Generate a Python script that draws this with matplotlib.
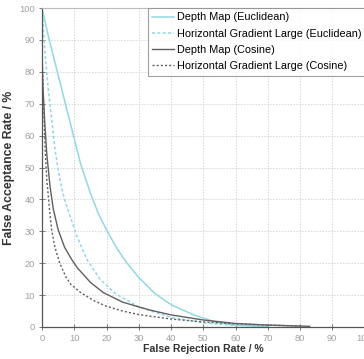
import matplotlib.pyplot as plt
import numpy as np

plt.rcParams['font.family'] = ['Liberation Sans', 'DejaVu Sans']

# FRR / FAR values
depth_euc_x = [0, 2, 5, 8, 10, 12, 15, 17.5, 20, 23, 26, 30, 35, 40, 47, 54, 60, 70]
depth_euc_y = [100, 91, 79, 67, 59, 51, 42, 35.5, 30.5, 25, 20.5, 15.5, 10.5, 7, 3.8, 1.5, 0.6, 0.1]

hgl_euc_x = [0, 1, 2, 3, 4, 5, 6, 7, 8.8, 11, 14, 18, 22.7, 30, 40, 50, 60, 70]
hgl_euc_y = [100, 85, 74, 65, 56, 49.5, 44, 40, 34.5, 28, 21, 15, 10.5, 6.3, 3, 1.3, 0.5, 0.2]

depth_cos_x = [0, 0.3, 0.8, 1.5, 2.5, 3.5, 5, 7, 9, 11, 15, 19, 25, 30, 33.5, 40, 50, 60, 70, 80, 83]
depth_cos_y = [87, 75, 65, 54, 44, 37, 30.5, 25, 21.5, 18.5, 14, 10.8, 7.8, 6.3, 5.3, 3.8, 2.2, 1.1, 0.6, 0.3, 0.2]

hgl_cos_x = [0, 0.5, 1, 1.5, 2.5, 3, 4, 5.5, 7.5, 9, 12, 16, 20, 25, 30, 40, 50, 60, 70, 80]
hgl_cos_y = [83, 70, 55, 46, 35, 30.5, 25, 20, 15.5, 13.3, 10.8, 8.3, 6.5, 5, 3.9, 2.5, 1.6, 1.0, 0.6, 0.3]

cyan = '#8fd9e6'
dark = '#606060'

fig = plt.figure(figsize=(3.64, 3.59), dpi=100)
ax = fig.add_axes([42 / 364, 32 / 359, 322.5 / 364, 319 / 359])

ax.plot(depth_euc_x, depth_euc_y, color=cyan, lw=1.1, label='Depth Map (Euclidean)')
ax.plot(hgl_euc_x, hgl_euc_y, color=cyan, lw=1.1, ls=(0, (2, 1.5)),
        label='Horizontal Gradient Large (Euclidean)')
ax.plot(depth_cos_x, depth_cos_y, color=dark, lw=1.0, label='Depth Map (Cosine)')
ax.plot(hgl_cos_x, hgl_cos_y, color=dark, lw=1.0, ls=(0, (1.5, 1.5)),
        label='Horizontal Gradient Large (Cosine)')

ax.set_xlim(0, 100)
ax.set_ylim(0, 100)
ax.set_xticks(np.arange(0, 101, 10))
ax.set_yticks(np.arange(0, 101, 10))
ax.grid(True, color='#d8d8d8', ls=(0, (1.5, 1.5)), lw=0.7)
ax.tick_params(direction='inout', length=4, width=0.7, color='#777777',
               labelsize=6.7, labelcolor='#a0a0a0', pad=3)

for s in ['left', 'bottom']:
    ax.spines[s].set_color('#555555')
    ax.spines[s].set_linewidth(0.9)
ax.spines['top'].set_color('#bbbbbb')
ax.spines['right'].set_color('#bbbbbb')

ax.set_xlabel('False Rejection Rate / %', fontsize=7.6, fontweight='bold', color='#333333', labelpad=1)
ax.set_ylabel('False Acceptance Rate / %', fontsize=8.8, fontweight='bold', color='#333333', labelpad=3)

leg = fig.legend(loc='upper left', bbox_to_anchor=(148 / 364, 1 - 8 / 359),
                 bbox_transform=fig.transFigure, borderaxespad=0, fontsize=7.8,
                 frameon=True, fancybox=False, edgecolor='#888888',
                 handlelength=2.0, handletextpad=0.3, labelspacing=0.58,
                 borderpad=0.4)
leg.get_frame().set_linewidth(0.8)

fig.savefig('out.png', dpi=100)
